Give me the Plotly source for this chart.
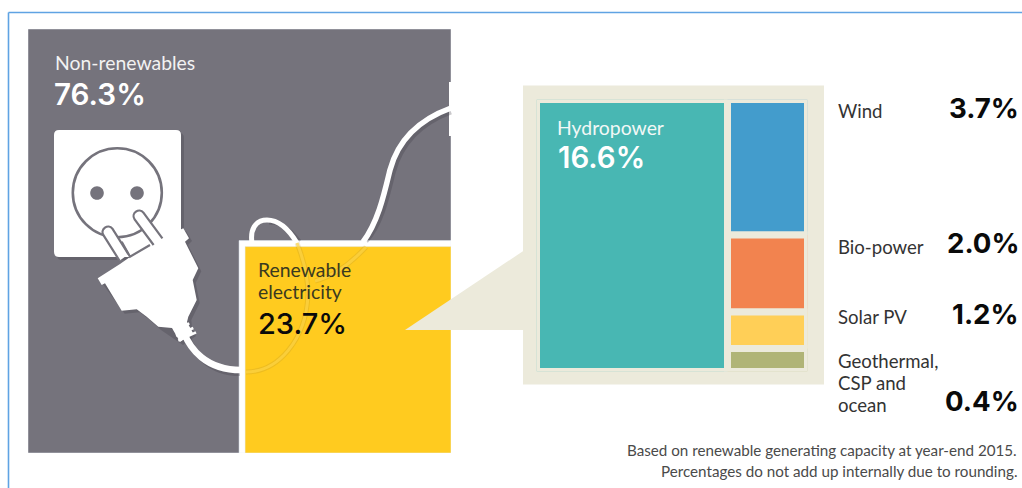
"""Renewable share of global electricity, drawn as nested treemap tiles."""
import math
import plotly.graph_objects as go

# shares, in percent
main_labels = ['Non-renewables', ['Renewable', 'electricity']]
main_values = [76.3, 23.7]
hydro_label = 'Hydropower'
hydro_value = 16.6
other_labels = [['Wind'], ['Bio-power'], ['Solar PV'], ['Geothermal,', 'CSP and', 'ocean']]
other_values = [3.7, 2.0, 1.2, 0.4]
# tile sizes as they are drawn in the picture (not quite the printed shares)
other_drawn = [3.67, 2.09, 0.99, 0.62]
other_drawn_width = 6.95
other_colors = ['#439CCC', '#F2834F', '#FFCF57', '#B0B476']
footnote = ['Based on renewable generating capacity at year-end 2015.',
            'Percentages do not add up internally due to rounding.']

GREY = '#75737C'
YELLOW = '#FFCB1F'
TEAL = '#48B7B3'
BEIGE = '#ECEADB'
W, H = 1022, 488
FONT = 'Lato, Noto Sans, sans-serif'
NUM_FONT = 'Inter, Noto Sans, sans-serif'
SHADOW = 'rgba(60,58,68,0.28)'


def dom_x(a, b):
    return [a / W, b / W]


def dom_y(top, bottom):
    return [1 - bottom / H, 1 - top / H]


fig = go.Figure()

# outer square: the renewable tile is a square whose area is its share
side = math.sqrt(main_values[1] / 100)
halo = side + 6 / 423
fig.add_trace(go.Bar(x=[0.5], y=[1], width=[1], marker_color=GREY, xaxis='x', yaxis='y'))
fig.add_trace(go.Bar(x=[1 - halo / 2], y=[halo], width=[halo], marker_color='white', xaxis='x', yaxis='y'))
fig.add_trace(go.Bar(x=[1 - side / 2], y=[side], width=[side], marker_color=YELLOW, xaxis='x', yaxis='y'))

# detail panel: hydro on the left, the rest stacked on the right
col = other_drawn_width
total_h = sum(other_drawn)
gap = dict(color=BEIGE, width=7)
fig.add_trace(go.Bar(x=[hydro_value / 2], y=[total_h], width=[hydro_value], marker=dict(color=TEAL, line=gap),
                     xaxis='x2', yaxis='y2'))
base = 0
for v, c in zip(other_drawn, other_colors):
    fig.add_trace(go.Bar(x=[hydro_value + col / 2], y=[v], base=[base], width=[col],
                         marker=dict(color=c, line=gap), xaxis='x2', yaxis='y2'))
    base += v

# empty trace so the pixel axes for the artwork exist
fig.add_trace(go.Scatter(x=[0], y=[0], mode='markers', marker_opacity=0, xaxis='x3', yaxis='y3'))


def art(path, fill=None, line=None, width=0, layer='above'):
    fig.add_shape(type='path', path=path, xref='x3', yref='y3', layer=layer,
                  line=dict(color=line or 'rgba(0,0,0,0)', width=width),
                  fillcolor=fill or 'rgba(0,0,0,0)')


def circle(cx, cy, r):
    k = 0.5523 * r
    return (f'M {cx - r},{cy} C {cx - r},{cy - k} {cx - k},{cy - r} {cx},{cy - r} '
            f'C {cx + k},{cy - r} {cx + r},{cy - k} {cx + r},{cy} '
            f'C {cx + r},{cy + k} {cx + k},{cy + r} {cx},{cy + r} '
            f'C {cx - k},{cy + r} {cx - r},{cy + k} {cx - r},{cy} Z')


def rrect(x0, y0, x1, y1, r):
    return (f'M {x0 + r},{y0} L {x1 - r},{y0} Q {x1},{y0} {x1},{y0 + r} L {x1},{y1 - r} '
            f'Q {x1},{y1} {x1 - r},{y1} L {x0 + r},{y1} Q {x0},{y1} {x0},{y1 - r} '
            f'L {x0},{y0 + r} Q {x0},{y0} {x0 + r},{y0} Z')


# page frame and detail panel
fig.add_shape(type='rect', xref='paper', yref='paper', layer='below', line_width=0, fillcolor=BEIGE,
              x0=523 / W, x1=824 / W, y0=1 - 384.5 / H, y1=1 - 85.5 / H)
fig.add_shape(type='line', xref='x3', yref='y3', x0=8.5, x1=8.5, y0=12.5, y1=488, line=dict(color='#5FA3E3', width=1.6))
fig.add_shape(type='line', xref='x3', yref='y3', x0=8.5, x1=1022, y0=12.5, y1=12.5, line=dict(color='#5FA3E3', width=1.6))

# callout wedge
art('M 405,330 L 524,250.5 L 524,330 Z', fill=BEIGE)

# notch at the right of the grey block
art('M 449,82 L 451,82 L 451,136 L 449,136 Z', fill='white')

# cables
CABLE_A = 'M 184,333 C 190,348 205,370 241,370'
LOOP = 'M 297,243 C 288,228 277,220 267,220 C 255,220 250,230 252,243'
CABLE_B = 'M 451,108 C 418,120 398,140 390,170 C 384,195 378,222 363,242'
FAINT_A = 'M 246,372 C 278,372 306,340 308,295 C 308,278 303,258 297,243'
FAINT_B = 'M 366,247 C 352,262 335,276 315,281'

# socket
art(rrect(57, 133, 184, 260, 5), fill=SHADOW)
art(rrect(54, 130, 181, 257, 5), fill='white')
art(circle(117.3, 192.7, 44.5), line=GREY, width=2.6)
art(circle(97, 193, 6.8), fill=GREY)
art(circle(137, 193, 6.8), fill=GREY)

# plug
BODY = ('M 97.7,278.3 L 120,264 L 130,257 L 150,245 L 158.3,240 L 183.3,228.3 L 189,238.3 L 185,241.7 '
        'L 198.3,268.3 L 192.7,280 L 196.7,300 L 188.3,316.7 L 187,322 L 193,333 L 180,342 L 172,328 '
        'L 158.3,326.7 L 146.7,316.7 L 136.7,309.3 L 121.7,310.7 L 105,283.3 L 101.7,285 Z')
SHADOW_BODY = ('M 100.7,281.3 L 123,267 L 161,243 L 186,231 L 192,241 L 188,245 '
               'L 201.3,271.3 L 195.7,283 L 199.7,303 L 191.3,320 L 192,328 L 196,336 L 183,345 '
               'L 161,330 L 149.7,320 L 139.7,312.3 L 124.7,313.7 Z')
art(SHADOW_BODY, fill=SHADOW)
art('M 187,336 C 193,351 208,373 240,373', line=SHADOW, width=6)
art('M 300,241 L 292,232 C 284,225 276,223 269,223', line=SHADOW, width=3)
art('M 451,112 C 421,123 401,143 393,173 C 387,198 381,225 366,241', line=SHADOW, width=5)
art(BODY, fill='white')
art(CABLE_A, line='white', width=6.5)
art(LOOP, line='white', width=5)
art(CABLE_B, line='white', width=5.5)
for faint in (FAINT_A, FAINT_B):
    art(faint, line='rgba(150,120,40,0.16)', width=5)
    art(faint, line='rgba(255,214,70,0.7)', width=3)
for rib in ['M 174,330.7 L 189.3,323.3', 'M 176,335.7 L 193.3,328', 'M 178.3,340.7 L 196,332.3']:
    art(rib, line='white', width=2.6)
art('M 153.6,245 L 134.6,219.3 C 130.5,213.5 139.3,207 143.4,212.7 L 162.4,238.4', fill='white', line=GREY, width=2.2)
art('M 119.6,260.8 L 103.6,235.3 C 99.5,229.5 108.3,223 112.4,228.7 L 128.4,254.2', fill='white', line=GREY, width=2.2)
art('M 121.7,241.7 L 130,256.7 L 150,245', line=GREY, width=2.2)


def label(x, y, text, size, color, weight=None, anchor='left', family=FONT):
    # annotations carry 2px of padding, take it back off
    shift = -2 if anchor == 'left' else 2
    fig.add_annotation(x=x, y=y, xref='x3', yref='y3', text=text, xshift=shift,
                       showarrow=False, xanchor=anchor, yanchor='middle', align=anchor,
                       font=dict(family=family, size=size, color=color, weight=weight))


label(55, 62, main_labels[0], 19.4, '#F2F2F2')
label(54, 94, f'{main_values[0]}%', 29.6, 'white', weight=600, family=NUM_FONT)
label(258, 269, main_labels[1][0], 19.4, '#3A3A20')
label(258, 291, main_labels[1][1], 19.4, '#3A3A20')
label(258, 323, f'{main_values[1]}%', 29, '#0A0A0A', weight=500, family=NUM_FONT)
label(557, 127, hydro_label, 19.4, '#F2F8F6')
label(558, 157, f'{hydro_value}%', 29.4, 'white', weight=600, family=NUM_FONT)

text_y = [111, 247, 317, 361]
value_y = [108, 243, 314, 401]
for lines, val, ty, vy in zip(other_labels, other_values, text_y, value_y):
    for i, line in enumerate(lines):
        label(838, ty + 22 * i, line, 18.6, '#333333')
    label(1019, vy, f'{val:.1f}%', 27.6, '#0A0A0A', weight=700, anchor='right', family=NUM_FONT)

label(1017, 450, footnote[0], 15.2, '#4A4A4A', anchor='right')
label(1017, 471, footnote[1], 15.2, '#4A4A4A', anchor='right')

hidden = dict(visible=False, fixedrange=True)
fig.update_layout(
    width=W, height=H, margin=dict(l=0, r=0, t=0, b=0),
    paper_bgcolor='white', plot_bgcolor='rgba(0,0,0,0)',
    showlegend=False, hovermode=False, barmode='overlay',
    xaxis=dict(domain=dom_x(28, 451), range=[0, 1], anchor='y', **hidden),
    yaxis=dict(domain=dom_y(29, 453), range=[0, 1], anchor='x', **hidden),
    xaxis2=dict(domain=dom_x(536.5, 807.5), range=[0, hydro_value + col], anchor='y2', **hidden),
    yaxis2=dict(domain=dom_y(99.5, 371.5), range=[total_h, 0], anchor='x2', **hidden),
    xaxis3=dict(domain=[0, 1], range=[0, W], anchor='y3', **hidden),
    yaxis3=dict(domain=[0, 1], range=[H, 0], anchor='x3', **hidden),
)

fig.write_html('out.html', config=dict(displayModeBar=False),
               post_script="document.body.style.margin='0';document.body.style.overflow='hidden';")
